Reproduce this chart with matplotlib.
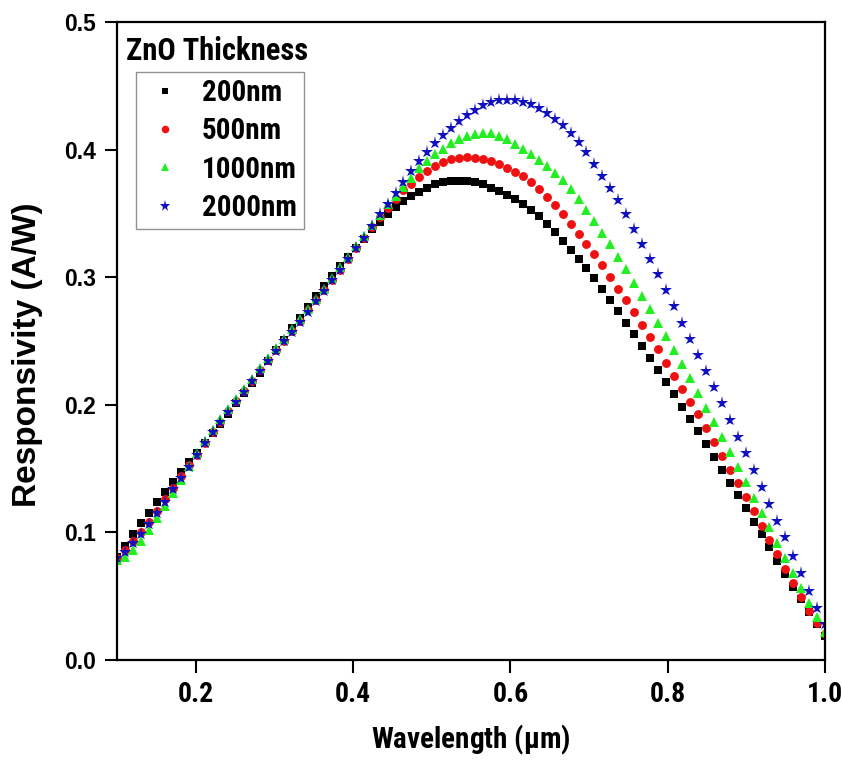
import numpy as np
import matplotlib
matplotlib.use('Agg')
from matplotlib import pyplot as plt

# wavelength sweep in um (90 evenly spaced samples)
wavelength = np.linspace(0.1, 1.0, 90)

# responsivity (A/W) for each ZnO layer thickness
resp_200 = [
    0.081, 0.0895, 0.099, 0.107, 0.1154, 0.1235, 0.1316, 0.1396, 0.147, 0.1553,
    0.1625, 0.170, 0.178, 0.185, 0.193, 0.201, 0.209, 0.217, 0.225, 0.234,
    0.243, 0.251, 0.260, 0.268, 0.277, 0.285, 0.293, 0.301, 0.309, 0.316,
    0.323, 0.330, 0.3375, 0.3435, 0.3495, 0.3550, 0.3594, 0.3635, 0.367, 0.370,
    0.3727, 0.3743, 0.3753, 0.3756, 0.3753, 0.3743, 0.3727, 0.3700, 0.3672, 0.3645,
    0.3612, 0.3575, 0.3530, 0.3477, 0.3414, 0.3354, 0.3284, 0.3216, 0.3146, 0.3072,
    0.2997, 0.2905, 0.2819, 0.2733, 0.2641, 0.2553, 0.2461, 0.2370, 0.2276, 0.2175,
    0.2083, 0.1984, 0.1885, 0.1795, 0.1689, 0.1587, 0.1488, 0.1389, 0.1290, 0.1193,
    0.1083, 0.0984, 0.0883, 0.0775, 0.0673, 0.0574, 0.0475, 0.0378, 0.0280, 0.0190,
]
resp_500 = [
    0.080, 0.086, 0.093, 0.100, 0.108, 0.117, 0.126, 0.135, 0.144, 0.153,
    0.161, 0.170, 0.1785, 0.1865, 0.195, 0.203, 0.211, 0.219, 0.227, 0.235,
    0.243, 0.250, 0.258, 0.266, 0.274, 0.282, 0.290, 0.298, 0.306, 0.3145,
    0.323, 0.331, 0.339, 0.347, 0.3545, 0.3615, 0.368, 0.3733, 0.3785, 0.3835,
    0.3870, 0.3903, 0.3924, 0.3935, 0.3940, 0.3935, 0.3925, 0.3910, 0.3888, 0.3858,
    0.3828, 0.3790, 0.3743, 0.3688, 0.3625, 0.3563, 0.3493, 0.3420, 0.3341, 0.3263,
    0.3179, 0.3093, 0.3004, 0.2911, 0.2819, 0.2728, 0.2629, 0.2532, 0.2435, 0.2331,
    0.2226, 0.2122, 0.2023, 0.1924, 0.1818, 0.1710, 0.1597, 0.1488, 0.1384, 0.1274,
    0.1169, 0.1049, 0.0940, 0.0828, 0.0713, 0.0601, 0.0491, 0.0386, 0.0290, 0.0200,
]
resp_1000 = [
    0.078, 0.081, 0.086, 0.093, 0.1015, 0.111, 0.1205, 0.131, 0.141, 0.152,
    0.162, 0.1715, 0.1805, 0.1885, 0.1965, 0.2045, 0.2125, 0.2205, 0.2285, 0.2365,
    0.2442, 0.2518, 0.2592, 0.267, 0.2748, 0.283, 0.291, 0.2995, 0.3078, 0.316,
    0.3242, 0.3325, 0.341, 0.349, 0.357, 0.364, 0.371, 0.378, 0.3855, 0.391,
    0.3962, 0.4008, 0.4048, 0.4082, 0.4108, 0.4125, 0.4133, 0.4128, 0.4108, 0.4080,
    0.4046, 0.4007, 0.3962, 0.3918, 0.3870, 0.3820, 0.3765, 0.3694, 0.3616, 0.3530,
    0.3440, 0.3350, 0.3260, 0.3160, 0.3063, 0.2958, 0.2853, 0.2749, 0.2644, 0.2537,
    0.2428, 0.2316, 0.2206, 0.2093, 0.1976, 0.1862, 0.1749, 0.1629, 0.1514, 0.1392,
    0.1271, 0.1154, 0.1039, 0.0914, 0.0801, 0.0679, 0.0561, 0.0449, 0.0339, 0.0222,
]
resp_2000 = [
    0.080, 0.0843, 0.0914, 0.0984, 0.1065, 0.1154, 0.124, 0.1337, 0.1423, 0.1514,
    0.161, 0.1697, 0.1784, 0.1865, 0.1947, 0.2025, 0.2104, 0.2183, 0.2265, 0.2344,
    0.2422, 0.2498, 0.2571, 0.2649, 0.2727, 0.2812, 0.289, 0.2976, 0.306, 0.3146,
    0.323, 0.331, 0.3401, 0.3493, 0.3576, 0.366, 0.3746, 0.383, 0.3908, 0.398,
    0.4054, 0.4111, 0.4171, 0.4223, 0.4273, 0.4312, 0.4346, 0.437, 0.4385, 0.439,
    0.439, 0.4375, 0.4354, 0.4325, 0.4287, 0.4242, 0.419, 0.4129, 0.4059, 0.398,
    0.389, 0.3793, 0.3702, 0.3602, 0.3493, 0.338, 0.3263, 0.3143, 0.3026, 0.2897,
    0.2772, 0.2644, 0.2519, 0.239, 0.2265, 0.214, 0.201, 0.1877, 0.1749, 0.1619,
    0.1488, 0.1352, 0.1222, 0.1091, 0.0961, 0.0814, 0.0679, 0.0543, 0.041, 0.0282,
]

labels = ['200nm', '500nm', '1000nm', '2000nm']
xticks = [0.2, 0.4, 0.6, 0.8, 1.0]
yticks = [0.0, 0.1, 0.2, 0.3, 0.4, 0.5]

# condensed bold face for horizontal text, falling back to plain sans
narrow = ['Liberation Sans Narrow', 'Noto Sans Condensed', 'Roboto Condensed',
          'Noto Sans', 'DejaVu Sans']
wide = ['Liberation Sans', 'DejaVu Sans']
nfont = dict(family=narrow, fontweight='bold', fontstretch='condensed')

fig = plt.figure(figsize=(8.42, 7.6), dpi=100)
ax = fig.add_axes([0.139, 0.1316, 0.841, 0.8395])

ax.plot(wavelength, resp_200, 's', color='black', markersize=5.7, mew=0, label=labels[0])
ax.plot(wavelength, resp_500, 'o', color='#ee1111', markersize=6.4, mew=0, label=labels[1])
ax.plot(wavelength, resp_1000, '^', color='#22ee22', markersize=7.4, mew=0, label=labels[2])
ax.plot(wavelength, resp_2000, '*', color='#1010c0', markersize=9.5, mew=0, label=labels[3])

ax.set_xlim(0.1, 1.0)
ax.set_ylim(0.0, 0.5)
ax.set_xticks(xticks)
ax.set_yticks(yticks)
ax.set_xticklabels(['%.1f' % t for t in xticks], fontsize=20, **nfont)
ax.set_yticklabels(['%.1f' % t for t in yticks], family=wide, fontsize=16.5, fontweight='bold')
ax.tick_params(direction='out', length=9, width=1.5, top=False, right=False)
ax.tick_params(axis='x', pad=6)
ax.tick_params(axis='y', pad=6)
for s in ax.spines.values():
    s.set_linewidth(1.6)

ax.set_xlabel('Wavelength ($\\mathregular{\\mu}$m)', fontsize=21, labelpad=11, **nfont)
ax.set_ylabel('Responsivity (A/W)', family=wide, fontsize=24, fontweight='bold')
ax.yaxis.set_label_coords(-0.104, 0.478)

ax.text(0.013, 0.94, 'ZnO Thickness', transform=ax.transAxes, fontsize=22,
        va='baseline', **nfont)
leg = ax.legend(loc='upper left', bbox_to_anchor=(0.027, 0.9216), borderaxespad=0,
                fancybox=False, edgecolor='#777777', handlelength=1.5, handletextpad=0.5,
                labelspacing=0.35, borderpad=0.25, markerscale=0.85,
                prop={'family': narrow, 'size': 21, 'weight': 'bold', 'stretch': 'condensed'})
leg.get_frame().set_linewidth(1.0)

fig.savefig('out.png', dpi=100)
